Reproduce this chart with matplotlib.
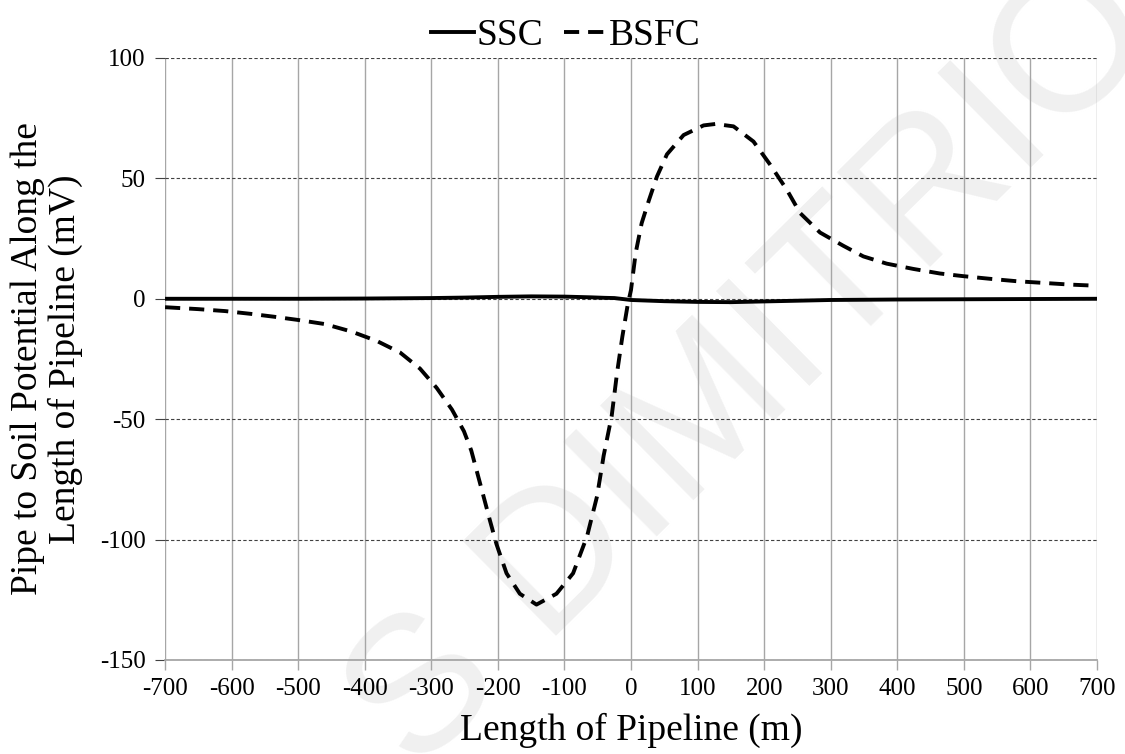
import numpy as np
import matplotlib
matplotlib.use("Agg")
from matplotlib import pyplot as plt
from matplotlib.lines import Line2D

plt.rcParams['font.family'] = ['Liberation Serif', 'DejaVu Serif']

# BSFC curve
x_bsfc = [-700, -650, -610, -570, -535, -500, -460, -420, -382, -347,
          -317, -292, -269, -251, -240, -224, -212, -202, -187, -167,
          -142, -112, -87, -66, -51, -41, -29, -21, -13, -5,
          0, 7, 16, 27, 39, 54, 79, 109, 127, 154,
          184, 209, 234, 254, 284, 319, 349, 384, 424, 464,
          499, 539, 579, 619, 659, 700]
y_bsfc = [-3.5, -4.3, -5.1, -6.3, -7.5, -8.8, -10.5, -13.6, -17.5, -22.3,
          -29, -37, -46, -55, -63, -79.5, -92, -102, -114, -122.5,
          -127, -122.5, -114, -98.6, -82, -65, -48.6, -30.8, -15.7, -2.5,
          3.7, 19, 31.4, 41, 50.8, 60, 68, 72, 72.6, 71.6,
          65.3, 55.7, 45.3, 35.6, 27.5, 22, 17.6, 14.6, 12.4, 10.5,
          9.4, 8.3, 7.3, 6.6, 5.9, 5.4]

# SSC curve
x_ssc = [-700, -500, -400, -300, -250, -200, -150, -100, -60, -40,
         -25, 0, 50, 100, 150, 200, 250, 300, 400, 500, 600, 700]
y_ssc = [0, 0, 0.1, 0.3, 0.5, 0.8, 1.0, 0.9, 0.6, 0.4,
         0.3, -0.5, -1.0, -1.3, -1.4, -1.1, -0.8, -0.5, -0.3, -0.2, -0.1, 0]

xticks = np.arange(-700, 701, 100)
yticks = np.arange(-150, 101, 50)

dash = (0, (3.9, 2.3))

fig = plt.figure(figsize=(11.25, 7.54), dpi=100)
ax = fig.add_axes([0.1467, 0.1247, 0.8284, 0.7984])
ax.set_zorder(1)
ax.patch.set_alpha(0)

# watermark behind everything
fig.text(0.671, 1 - 370 / 754, "S DIMITRIO", rotation=44.6, fontsize=139,
         color='#f0f0f0', family='Liberation Sans', ha='center', va='center',
         rotation_mode='anchor', zorder=0)

ax.plot(x_ssc, y_ssc, color='black', lw=2.8, solid_capstyle='butt', zorder=3)
ax.plot(x_bsfc, y_bsfc, color='black', lw=2.8, ls=dash, zorder=3)

ax.set_xlim(-700, 700)
ax.set_ylim(-150, 100)
ax.set_xticks(xticks)
ax.set_yticks(yticks)
ax.set_xticklabels([str(v) for v in xticks])
ax.set_yticklabels([str(v) for v in yticks])

ax.grid(axis='x', color='#a6a6a6', lw=1.0, ls='-')
ax.grid(axis='y', color='#404040', lw=0.8, ls=(0, (3, 2)))
ax.set_axisbelow(True)

for s in ['left', 'right', 'top']:
    ax.spines[s].set_visible(False)
ax.spines['bottom'].set_color('#a6a6a6')
ax.spines['bottom'].set_linewidth(1.3)

ax.tick_params(axis='x', direction='out', length=7, width=1.0, color='#a6a6a6',
               labelsize=18, pad=6)
ax.tick_params(axis='y', direction='out', length=7, width=0.8, color='#404040',
               labelsize=18, pad=7)

ax.set_xlabel("Length of Pipeline (m)", fontsize=27, labelpad=9)
ax.set_ylabel("Pipe to Soil Potential Along the\nLength of Pipeline (mV)",
              fontsize=27, labelpad=12, linespacing=1.1)

handles = [Line2D([], [], color='black', lw=2.8),
           Line2D([], [], color='black', lw=2.8, ls=dash)]
fig.legend(handles, ['SSC', 'BSFC'], loc='upper center', bbox_to_anchor=(0.503, 1.02),
           ncol=2, frameon=False, fontsize=27, handlelength=1.15, handletextpad=0.05,
           columnspacing=0.55)

plt.savefig('out.png', dpi=100)
